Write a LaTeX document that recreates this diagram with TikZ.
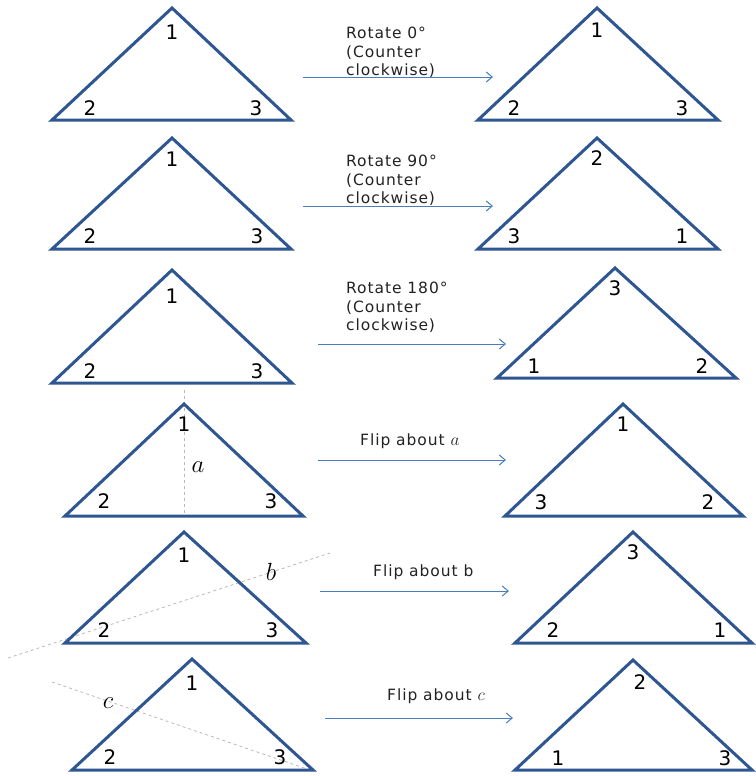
\documentclass[tikz,border=0pt]{standalone}
\usepackage{fontspec}
\setmainfont{DejaVu Sans}
\usetikzlibrary{arrows.meta}
\definecolor{triblue}{HTML}{2E5690}
\definecolor{arrblue}{HTML}{4A7EBB}
\definecolor{txtgray}{HTML}{222222}
\newcommand{\capmath}[1]{{\fontsize{19}{19}\selectfont$#1$}}
\begin{document}
\begin{tikzpicture}[x=1pt,y=-1pt,
  tri/.style={draw=triblue, line width=3pt, line join=miter, miter limit=20},
  num/.style={font=\fontsize{20}{20}\selectfont, text=black, inner sep=0pt},
  captext/.style={font=\fontsize{15.5}{18.5}\selectfont\addfontfeatures{LetterSpace=6}, text=txtgray, align=left, anchor=north west, inner sep=0pt},
  arr/.style={draw=arrblue, line width=1pt, -{Straight Barb[length=6pt,width=10pt]}},
  axis/.style={draw=gray!55, dashed, line width=0.8pt},
  axlab/.style={font=\fontsize{25}{25}\selectfont, inner sep=0pt}]
\path[use as bounding box] (0,0) rectangle (755,776);

% Row 1
\coordinate (L1a) at (172,8); \coordinate (L1b) at (52,120); \coordinate (L1c) at (291,120);
\draw[tri] (L1a) -- (L1b) -- (L1c) -- cycle;
\node[num] (l1n1) at (172,32) {1};
\node[num] (l1n2) at (90,108) {2};
\node[num] (l1n3) at (256,108) {3};
\coordinate (R1a) at (597,8); \coordinate (R1b) at (478,120); \coordinate (R1c) at (718,120);
\draw[tri] (R1a) -- (R1b) -- (R1c) -- cycle;
\node[num] (r1n1) at (597,30) {1};
\node[num] (r1n2) at (514,108) {2};
\node[num] (r1n3) at (682,108) {3};
\coordinate (A1s) at (303,77); \coordinate (A1e) at (493,77);
\draw[arr] (A1s) -- (A1e);
\node[captext] (t1) at (346,27) {Rotate 0°\\(Counter\\clockwise)};

% Row 2
\coordinate (L2a) at (172,138); \coordinate (L2b) at (52,249); \coordinate (L2c) at (291,249);
\draw[tri] (L2a) -- (L2b) -- (L2c) -- cycle;
\node[num] (l2n1) at (172,159) {1};
\node[num] (l2n2) at (90,236) {2};
\node[num] (l2n3) at (257,236) {3};
\coordinate (R2a) at (597,138); \coordinate (R2b) at (478,249); \coordinate (R2c) at (718,249);
\draw[tri] (R2a) -- (R2b) -- (R2c) -- cycle;
\node[num] (r2n1) at (597,158) {2};
\node[num] (r2n2) at (514,236) {3};
\node[num] (r2n3) at (682,236) {1};
\coordinate (A2s) at (303,206); \coordinate (A2e) at (493,206);
\draw[arr] (A2s) -- (A2e);
\node[captext] (t2) at (346,155) {Rotate 90°\\(Counter\\clockwise)};

% Row 3
\coordinate (L3a) at (172,270); \coordinate (L3b) at (52,383); \coordinate (L3c) at (292,383);
\draw[tri] (L3a) -- (L3b) -- (L3c) -- cycle;
\node[num] (l3n1) at (172,296) {1};
\node[num] (l3n2) at (90,371) {2};
\node[num] (l3n3) at (257,371) {3};
\coordinate (R3a) at (615,268); \coordinate (R3b) at (497,378); \coordinate (R3c) at (736,378);
\draw[tri] (R3a) -- (R3b) -- (R3c) -- cycle;
\node[num] (r3n1) at (615,288) {3};
\node[num] (r3n2) at (534,366) {1};
\node[num] (r3n3) at (702,366) {2};
\coordinate (A3s) at (318,344); \coordinate (A3e) at (506,344);
\draw[arr] (A3s) -- (A3e);
\node[captext] (t3) at (346,282) {Rotate 180°\\(Counter\\clockwise)};

% Row 4
\coordinate (La4t) at (184,390); \coordinate (La4b) at (184,516);
\draw[axis] (La4t) -- (La4b);
\coordinate (L4a) at (184,404); \coordinate (L4b) at (65,516); \coordinate (L4c) at (303,516);
\draw[tri] (L4a) -- (L4b) -- (L4c) -- cycle;
\node[num] (l4n1) at (184,424) {1};
\node[num] (l4n2) at (104,501) {2};
\node[num] (l4n3) at (271,501) {3};
\node[axlab] (laba) at (198,467) {$a$};
\coordinate (R4a) at (623,404); \coordinate (R4b) at (505,516); \coordinate (R4c) at (743,516);
\draw[tri] (R4a) -- (R4b) -- (R4c) -- cycle;
\node[num] (r4n1) at (623,424) {1};
\node[num] (r4n2) at (541,502) {3};
\node[num] (r4n3) at (708,502) {2};
\coordinate (A4s) at (318,460); \coordinate (A4e) at (506,460);
\draw[arr] (A4s) -- (A4e);
\node[captext] (t4) at (360,434) {Flip about \capmath{a}};

% Row 5
\coordinate (Lb5s) at (8,658); \coordinate (Lb5e) at (330,553);
\draw[axis] (Lb5s) -- (Lb5e);
\coordinate (L5a) at (184,532); \coordinate (L5b) at (65,643); \coordinate (L5c) at (306,643);
\draw[tri] (L5a) -- (L5b) -- (L5c) -- cycle;
\node[num] (l5n1) at (184,555) {1};
\node[num] (l5n2) at (104,630) {2};
\node[num] (l5n3) at (272,630) {3};
\node[axlab] (labb) at (271,572) {$b$};
\coordinate (R5a) at (633,532); \coordinate (R5b) at (515,643); \coordinate (R5c) at (752,643);
\draw[tri] (R5a) -- (R5b) -- (R5c) -- cycle;
\node[num] (r5n1) at (633,552) {3};
\node[num] (r5n2) at (553,630) {2};
\node[num] (r5n3) at (720,630) {1};
\coordinate (A5s) at (320,591); \coordinate (A5e) at (509,591);
\draw[arr] (A5s) -- (A5e);
\node[captext] (t5) at (373,565) {Flip about b};

% Row 6
\coordinate (Lc6s) at (52,682); \coordinate (Lc6e) at (313,771);
\draw[axis] (Lc6s) -- (Lc6e);
\coordinate (L6a) at (192,659); \coordinate (L6b) at (72,770); \coordinate (L6c) at (313,770);
\draw[tri] (L6a) -- (L6b) -- (L6c) -- cycle;
\node[num] (l6n1) at (192,683) {1};
\node[num] (l6n2) at (110,757) {2};
\node[num] (l6n3) at (280,757) {3};
\node[axlab] (labc) at (108,703) {$c$};
\coordinate (R6a) at (633,660); \coordinate (R6b) at (515,770); \coordinate (R6c) at (752,770);
\draw[tri] (R6a) -- (R6b) -- (R6c) -- cycle;
\node[num] (r6n1) at (640,682) {2};
\node[num] (r6n2) at (558,758) {1};
\node[num] (r6n3) at (725,758) {3};
\coordinate (A6s) at (325,718); \coordinate (A6e) at (513,718);
\draw[arr] (A6s) -- (A6e);
\node[captext] (t6) at (387,689) {Flip about \capmath{c}};
\end{tikzpicture}
\end{document}
